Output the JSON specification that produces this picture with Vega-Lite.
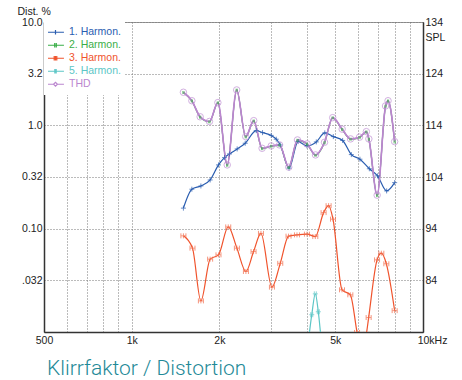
{
  "$schema": "https://vega.github.io/schema/vega-lite/v6.json",
  "width": 379,
  "height": 310,
  "autosize": {"type": "none"},
  "padding": {"left": 44, "top": 22, "right": 39, "bottom": 48},
  "background": "white",
  "config": {"view": {"stroke": "#999", "strokeWidth": 1}, "font": "Liberation Sans"},
  "title": {"text": "Klirrfaktor / Distortion", "orient": "bottom", "anchor": "start", "font": "Roboto", "fontWeight": 300, "fontSize": 21, "color": "#1f8a98", "offset": 12, "dx": 30},
  "layer": [
    {
      "data": {"values": [
        {"s": "1. Harmon.", "f": 1505, "d": 0.158},
        {"s": "1. Harmon.", "f": 1609, "d": 0.241},
        {"s": "1. Harmon.", "f": 1728, "d": 0.259},
        {"s": "1. Harmon.", "f": 1859, "d": 0.296},
        {"s": "1. Harmon.", "f": 1986, "d": 0.414},
        {"s": "1. Harmon.", "f": 2083, "d": 0.487},
        {"s": "1. Harmon.", "f": 2167, "d": 0.529},
        {"s": "1. Harmon.", "f": 2302, "d": 0.591},
        {"s": "1. Harmon.", "f": 2453, "d": 0.671},
        {"s": "1. Harmon.", "f": 2676, "d": 0.889},
        {"s": "1. Harmon.", "f": 2813, "d": 0.85},
        {"s": "1. Harmon.", "f": 3013, "d": 0.799},
        {"s": "1. Harmon.", "f": 3135, "d": 0.734},
        {"s": "1. Harmon.", "f": 3236, "d": 0.646},
        {"s": "1. Harmon.", "f": 3469, "d": 0.385},
        {"s": "1. Harmon.", "f": 3725, "d": 0.696},
        {"s": "1. Harmon.", "f": 3996, "d": 0.632},
        {"s": "1. Harmon.", "f": 4302, "d": 0.691},
        {"s": "1. Harmon.", "f": 4601, "d": 0.845},
        {"s": "1. Harmon.", "f": 4922, "d": 0.778},
        {"s": "1. Harmon.", "f": 5298, "d": 0.714},
        {"s": "1. Harmon.", "f": 5675, "d": 0.521},
        {"s": "1. Harmon.", "f": 6074, "d": 0.47},
        {"s": "1. Harmon.", "f": 6543, "d": 0.38},
        {"s": "1. Harmon.", "f": 6982, "d": 0.324},
        {"s": "1. Harmon.", "f": 7502, "d": 0.232},
        {"s": "1. Harmon.", "f": 7992, "d": 0.279},
        {"s": "3. Harmon.", "f": 1505, "d": 0.0852},
        {"s": "3. Harmon.", "f": 1617, "d": 0.0648},
        {"s": "3. Harmon.", "f": 1728, "d": 0.02},
        {"s": "3. Harmon.", "f": 1859, "d": 0.0507},
        {"s": "3. Harmon.", "f": 1986, "d": 0.0558},
        {"s": "3. Harmon.", "f": 2145, "d": 0.104},
        {"s": "3. Harmon.", "f": 2297, "d": 0.0648},
        {"s": "3. Harmon.", "f": 2467, "d": 0.0385},
        {"s": "3. Harmon.", "f": 2620, "d": 0.06},
        {"s": "3. Harmon.", "f": 2778, "d": 0.0901},
        {"s": "3. Harmon.", "f": 3030, "d": 0.0272},
        {"s": "3. Harmon.", "f": 3236, "d": 0.0462},
        {"s": "3. Harmon.", "f": 3455, "d": 0.0846},
        {"s": "3. Harmon.", "f": 3693, "d": 0.0871},
        {"s": "3. Harmon.", "f": 3996, "d": 0.0885},
        {"s": "3. Harmon.", "f": 4269, "d": 0.0839},
        {"s": "3. Harmon.", "f": 4558, "d": 0.143},
        {"s": "3. Harmon.", "f": 4742, "d": 0.167},
        {"s": "3. Harmon.", "f": 4910, "d": 0.1236},
        {"s": "3. Harmon.", "f": 5272, "d": 0.0256},
        {"s": "3. Harmon.", "f": 5631, "d": 0.0229},
        {"s": "3. Harmon.", "f": 5937, "d": 0.0099},
        {"s": "3. Harmon.", "f": 6141, "d": 0.006},
        {"s": "3. Harmon.", "f": 6390, "d": 0.0095},
        {"s": "3. Harmon.", "f": 6508, "d": 0.0138},
        {"s": "3. Harmon.", "f": 6955, "d": 0.0499},
        {"s": "3. Harmon.", "f": 7194, "d": 0.0579},
        {"s": "3. Harmon.", "f": 7485, "d": 0.0457},
        {"s": "3. Harmon.", "f": 7992, "d": 0.0161},
        {"s": "5. Harmon.", "f": 4038, "d": 0.008},
        {"s": "5. Harmon.", "f": 4151, "d": 0.0147},
        {"s": "5. Harmon.", "f": 4269, "d": 0.0234},
        {"s": "5. Harmon.", "f": 4371, "d": 0.0157},
        {"s": "5. Harmon.", "f": 4477, "d": 0.008},
        {"s": "2. Harmon.", "f": 1505, "d": 2.08},
        {"s": "2. Harmon.", "f": 1609, "d": 1.72},
        {"s": "2. Harmon.", "f": 1718, "d": 1.2},
        {"s": "2. Harmon.", "f": 1849, "d": 1.08},
        {"s": "2. Harmon.", "f": 1976, "d": 1.65},
        {"s": "2. Harmon.", "f": 2128, "d": 0.41},
        {"s": "2. Harmon.", "f": 2293, "d": 2.19},
        {"s": "2. Harmon.", "f": 2463, "d": 0.772},
        {"s": "2. Harmon.", "f": 2624, "d": 1.1},
        {"s": "2. Harmon.", "f": 2803, "d": 0.595},
        {"s": "2. Harmon.", "f": 3013, "d": 0.627},
        {"s": "2. Harmon.", "f": 3218, "d": 0.64},
        {"s": "2. Harmon.", "f": 3461, "d": 0.39},
        {"s": "2. Harmon.", "f": 3707, "d": 0.716},
        {"s": "2. Harmon.", "f": 4000, "d": 0.655},
        {"s": "2. Harmon.", "f": 4276, "d": 0.512},
        {"s": "2. Harmon.", "f": 4591, "d": 0.68},
        {"s": "2. Harmon.", "f": 4899, "d": 1.18},
        {"s": "2. Harmon.", "f": 5278, "d": 0.912},
        {"s": "2. Harmon.", "f": 5640, "d": 0.733},
        {"s": "2. Harmon.", "f": 6056, "d": 0.763},
        {"s": "2. Harmon.", "f": 6390, "d": 0.862},
        {"s": "2. Harmon.", "f": 6518, "d": 0.733},
        {"s": "2. Harmon.", "f": 6960, "d": 0.209},
        {"s": "2. Harmon.", "f": 7437, "d": 1.53},
        {"s": "2. Harmon.", "f": 7586, "d": 1.72},
        {"s": "2. Harmon.", "f": 7992, "d": 0.69},
        {"s": "THD", "f": 1505, "d": 2.09},
        {"s": "THD", "f": 1609, "d": 1.73},
        {"s": "THD", "f": 1718, "d": 1.21},
        {"s": "THD", "f": 1849, "d": 1.09},
        {"s": "THD", "f": 1976, "d": 1.66},
        {"s": "THD", "f": 2128, "d": 0.414},
        {"s": "THD", "f": 2293, "d": 2.2},
        {"s": "THD", "f": 2463, "d": 0.778},
        {"s": "THD", "f": 2624, "d": 1.11},
        {"s": "THD", "f": 2803, "d": 0.6},
        {"s": "THD", "f": 3013, "d": 0.632},
        {"s": "THD", "f": 3218, "d": 0.646},
        {"s": "THD", "f": 3461, "d": 0.394},
        {"s": "THD", "f": 3707, "d": 0.722},
        {"s": "THD", "f": 4000, "d": 0.661},
        {"s": "THD", "f": 4276, "d": 0.517},
        {"s": "THD", "f": 4591, "d": 0.686},
        {"s": "THD", "f": 4899, "d": 1.187},
        {"s": "THD", "f": 5278, "d": 0.919},
        {"s": "THD", "f": 5640, "d": 0.739},
        {"s": "THD", "f": 6056, "d": 0.769},
        {"s": "THD", "f": 6390, "d": 0.869},
        {"s": "THD", "f": 6518, "d": 0.739},
        {"s": "THD", "f": 6960, "d": 0.211},
        {"s": "THD", "f": 7437, "d": 1.54},
        {"s": "THD", "f": 7586, "d": 1.73},
        {"s": "THD", "f": 7992, "d": 0.696}
      ]},
      "encoding": {
        "x": {"field": "f", "type": "quantitative",
          "scale": {"type": "log", "domain": [500, 10000], "nice": false},
          "axis": {"title": null, "values": [500, 600, 700, 800, 900, 1000, 2000, 3000, 4000, 5000, 6000, 7000, 8000, 9000, 10000],
            "labelExpr": "datum.value == 500 ? '500' : datum.value == 1000 ? '1k' : datum.value == 2000 ? '2k' : datum.value == 5000 ? '5k' : datum.value == 10000 ? '10kHz' : ''",
            "ticks": false, "grid": true, "gridDash": [1, 2], "gridColor": "#777", "gridWidth": 1,
            "domainColor": "#333", "domainWidth": 1.5, "labelFont": "Liberation Sans", "labelFontSize": 10.5, "labelColor": "#222",
            "labelPadding": 3, "labelFlush": false, "labelOverlap": false,
            "labelOffset": {"condition": {"test": "datum.value == 10000", "value": 9}, "value": 0}}},
        "y": {"field": "d", "type": "quantitative",
          "scale": {"type": "log", "domain": [0.01, 10], "nice": false},
          "axis": {"values": [10, 3.1623, 1, 0.31623, 0.1, 0.031623],
            "labelExpr": "datum.value > 9 ? '10.0' : datum.value > 3 ? '3.2' : datum.value > 0.9 ? '1.0' : datum.value > 0.3 ? '0.32' : datum.value > 0.09 ? '0.10' : '.032'",
            "ticks": false, "grid": true, "gridDash": [1, 2], "gridColor": "#777", "gridWidth": 1,
            "domainColor": "#333", "domainWidth": 1.5, "labelFont": "Liberation Sans", "labelFontSize": 10.5, "labelColor": "#222",
            "labelPadding": 2, "labelFlush": false, "labelOverlap": false,
            "title": "Dist. %", "titleAngle": 0, "titleAlign": "left", "titleBaseline": "bottom", "titleX": -27, "titleY": -6,
            "titleFont": "Liberation Sans", "titleFontSize": 10.5, "titleFontWeight": "normal", "titleColor": "#222"}}
      },
      "layer": [
        {
          "mark": {"type": "line", "interpolate": "monotone", "clip": true, "strokeWidth": 1.2},
          "encoding": {
            "color": {"field": "s", "type": "nominal",
              "scale": {"domain": ["1. Harmon.", "2. Harmon.", "3. Harmon.", "5. Harmon.", "THD"],
                "range": ["#2a5db0", "#3aae48", "#f0532c", "#5cc6c6", "#bb86cf"]},
              "legend": {"title": null, "orient": "top-left", "offset": 0, "padding": 4, "fillColor": "white",
                "symbolSize": 169, "symbolStrokeWidth": 1.2, "labelFont": "Liberation Sans", "labelFontSize": 10.5,
                "labelOffset": 6, "rowPadding": 0, "clipHeight": 12.5,
                "encode": {
                  "symbols": {"update": {
                    "shape": {"signal": "datum.value == '1. Harmon.' ? 'M-1.3,0H1.3M0,-0.35V0.35' : datum.value == '2. Harmon.' ? 'M-1.3,0H1.3M-0.12,-0.35V0.35M0.12,-0.35V0.35' : datum.value == '3. Harmon.' ? 'M-1.3,0H1.3M-0.2,-0.35V0.35M0,-0.35V0.35M0.2,-0.35V0.35' : datum.value == '5. Harmon.' ? 'M-1.3,0H1.3M-0.1,-0.35V0.35M0.1,-0.35V0.35' : 'M-1.3,0H-0.3M0.3,0H1.3M-0.3,0L0,-0.3L0.3,0L0,0.3Z'"},
                    "fill": {"value": "transparent"},
                    "stroke": {"scale": "color", "field": "value"},
                    "strokeWidth": {"value": 1.2}}},
                  "labels": {"update": {"fill": {"scale": "color", "field": "value"}}}}}}
          }
        },
        {
          "transform": [{"filter": "datum.s == 'THD'"}],
          "mark": {"type": "line", "interpolate": "monotone", "clip": true, "strokeWidth": 1.6, "color": "#bb86cf"}
        },
        {
          "transform": [{"filter": "datum.s == '1. Harmon.'"}],
          "mark": {"type": "point", "filled": false, "clip": true, "size": 25, "strokeWidth": 1, "color": "#2a5db0", "shape": "M-1,0H1M0,-1V1"}
        },
        {
          "transform": [{"filter": "datum.s == '2. Harmon.'"}],
          "mark": {"type": "point", "filled": false, "clip": true, "size": 9, "strokeWidth": 1, "color": "#3aae48", "shape": "M-0.4,-1V1M0.4,-1V1"}
        },
        {
          "transform": [{"filter": "datum.s == '3. Harmon.'"}],
          "mark": {"type": "point", "filled": false, "clip": true, "size": 25, "strokeWidth": 1, "color": "#f26b4a", "shape": "M-1,-1V1M0,-1V1M1,-1V1M-1,0H1"}
        },
        {
          "transform": [{"filter": "datum.s == '5. Harmon.'"}],
          "mark": {"type": "point", "filled": false, "clip": true, "size": 25, "strokeWidth": 1, "color": "#5cc6c6", "shape": "M-0.4,-1V1M0.4,-1V1M-1,0H1"}
        },
        {
          "transform": [{"filter": "datum.s == 'THD'"}],
          "mark": {"type": "point", "filled": false, "clip": true, "size": 42, "strokeWidth": 1, "color": "#c08fd4", "shape": "circle"}
        },
        {
          "data": {"values": [{"t": "DAAS"}]},
          "mark": {"type": "text", "angle": 270, "align": "center", "baseline": "middle", "font": "Liberation Sans", "fontSize": 11, "color": "#999"},
          "encoding": {
            "x": {"datum": 9344, "type": "quantitative"},
            "y": {"datum": 8.0, "type": "quantitative"},
            "text": {"field": "t"}
          }
        }
      ]
    },
    {
      "data": {"values": [{"v": 104}]},
      "mark": {"type": "point", "opacity": 0},
      "encoding": {
        "y": {"field": "v", "type": "quantitative",
          "scale": {"domain": [74, 134], "nice": false, "zero": false},
          "axis": {"orient": "right", "values": [84, 94, 104, 114, 124, 134], "ticks": false, "grid": false,
            "domainColor": "#333", "domainWidth": 1.5, "labelFont": "Liberation Sans", "labelFontSize": 10.5, "labelColor": "#222",
            "labelPadding": 2, "labelFlush": false, "labelOverlap": false,
            "title": "SPL", "titleAngle": 0, "titleAlign": "left", "titleBaseline": "middle", "titleX": 2, "titleY": 15,
            "titleFont": "Liberation Sans", "titleFontSize": 10.5, "titleFontWeight": "normal", "titleColor": "#222"}}
      }
    }
  ],
  "resolve": {"scale": {"y": "independent"}}
}
